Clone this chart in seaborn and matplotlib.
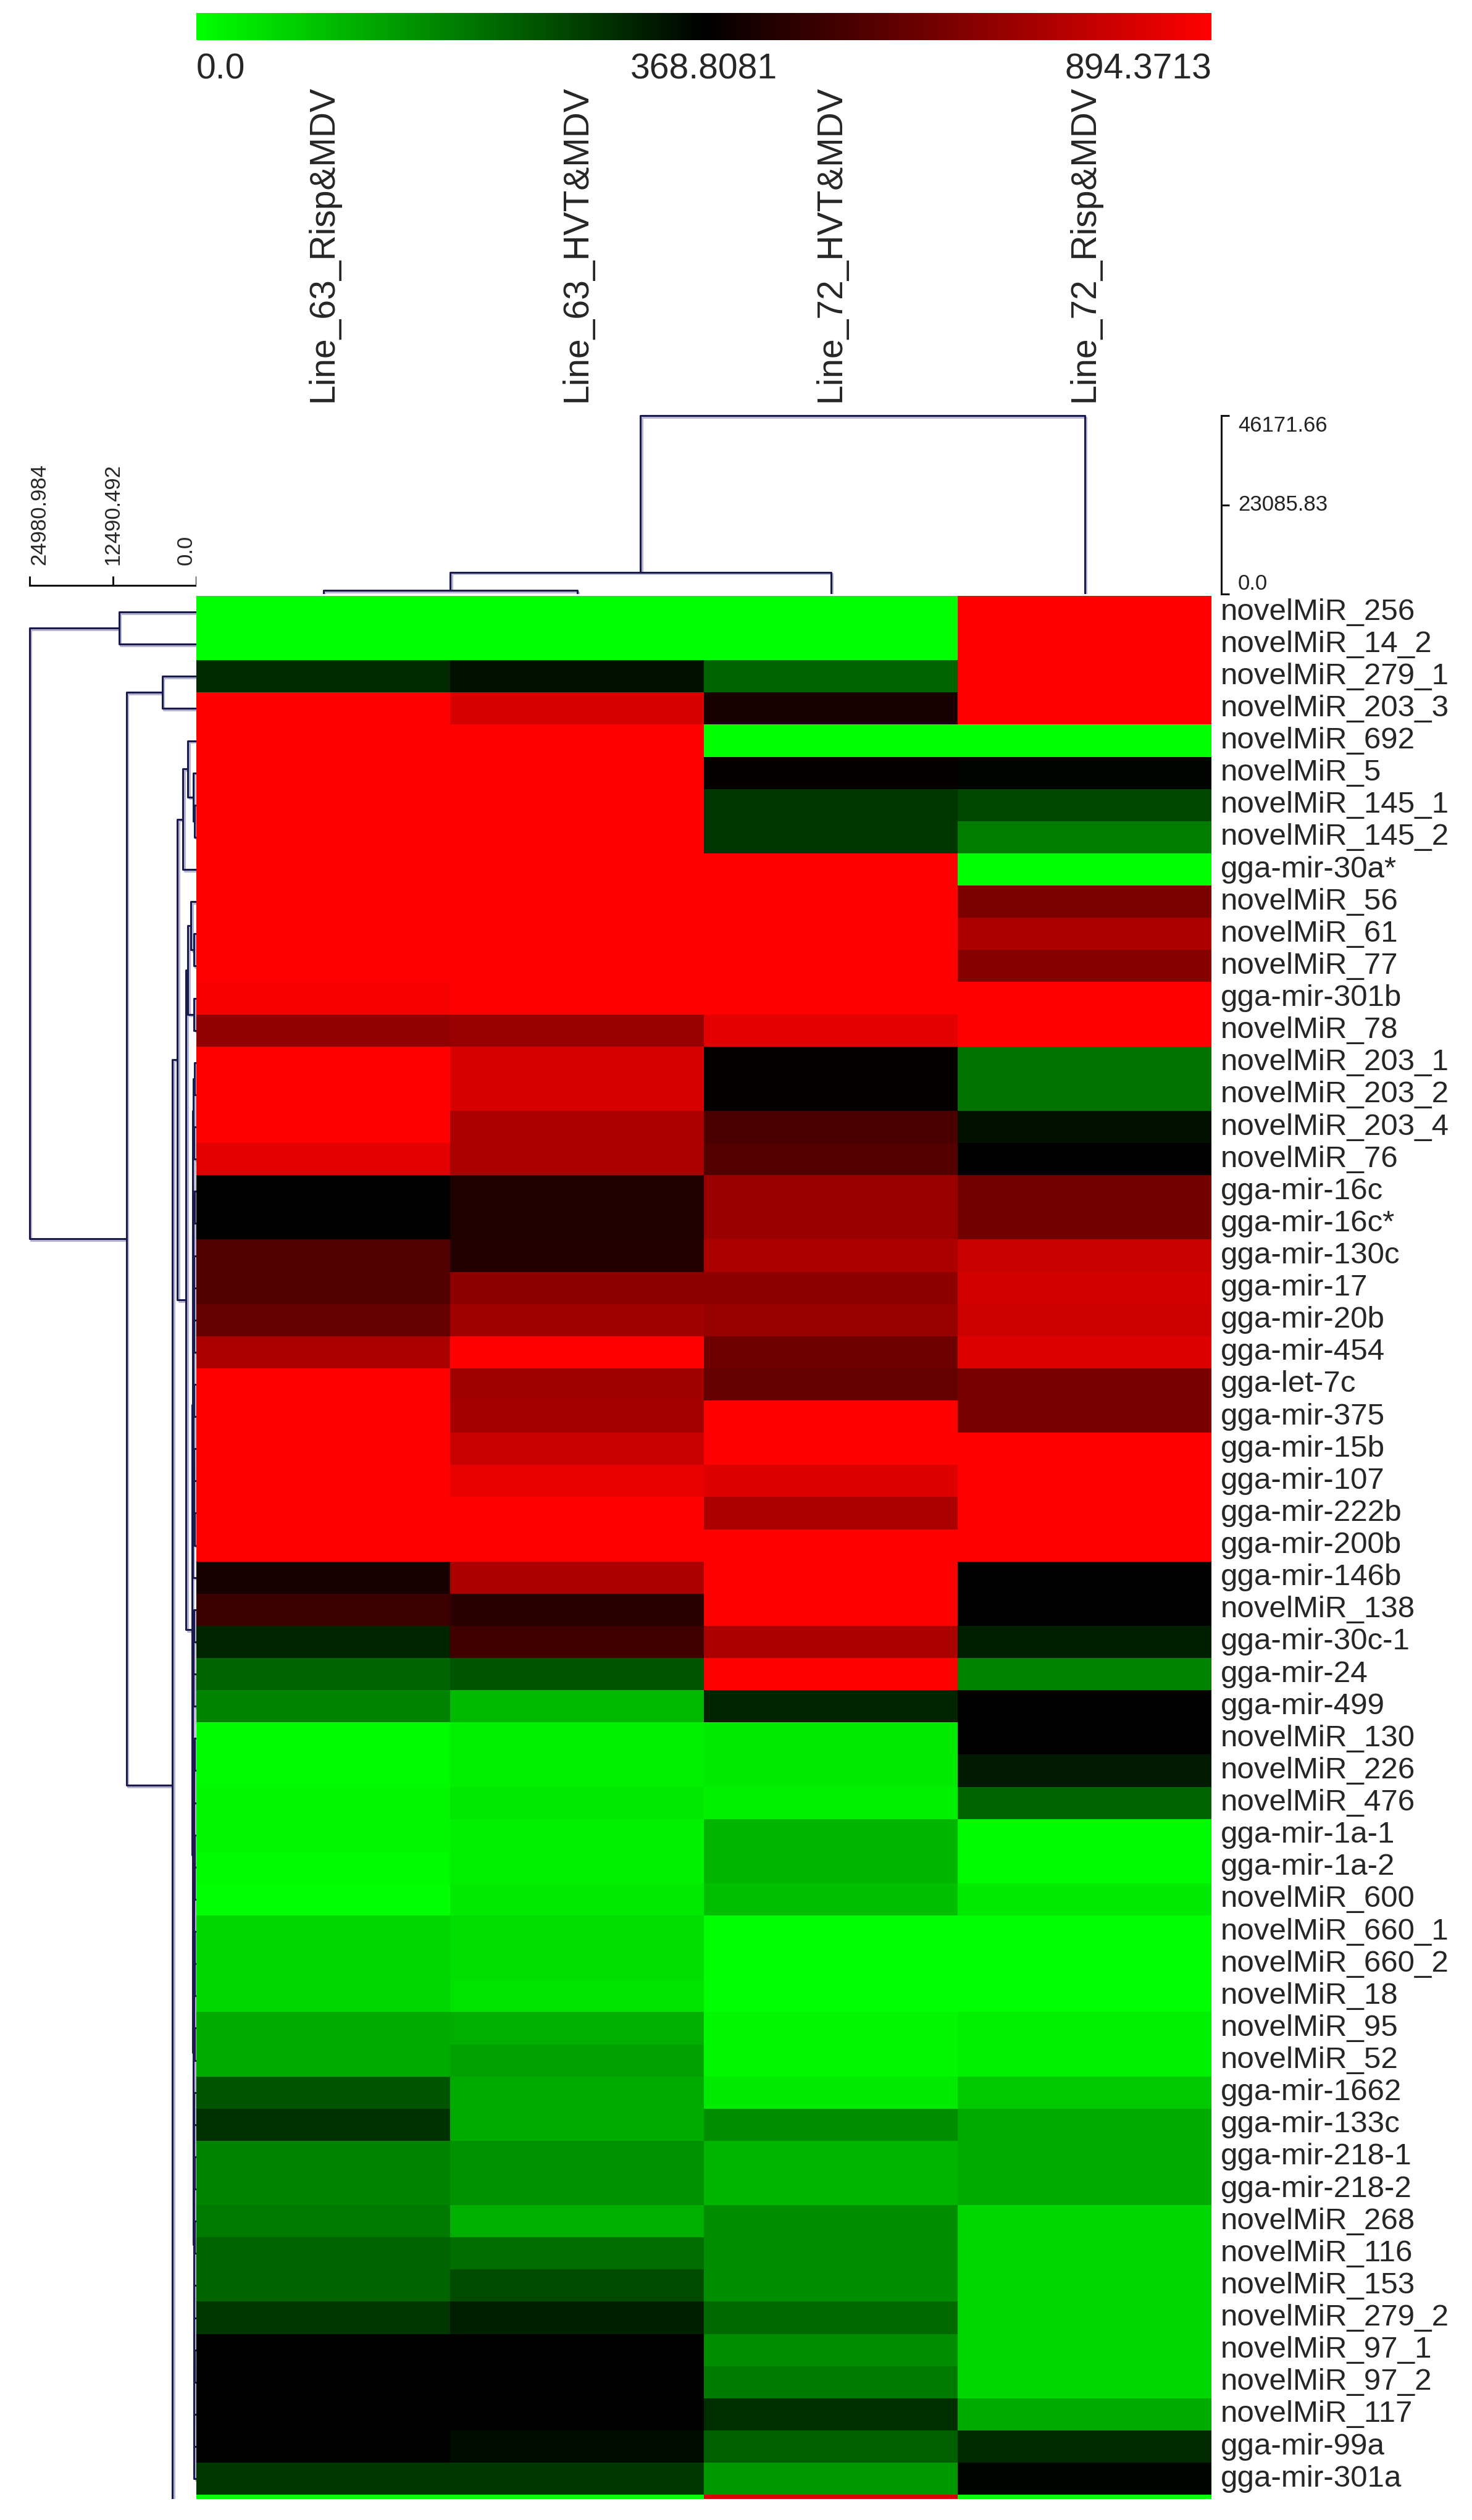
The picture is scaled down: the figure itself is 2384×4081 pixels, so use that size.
import pandas as pd
import matplotlib
matplotlib.use("Agg")
import matplotlib.pyplot as plt
import matplotlib.colors as mcolors
from matplotlib import font_manager
from matplotlib.transforms import offset_copy
import seaborn as sns

# -----------------------
# DATA
# -----------------------
samples = ["Line_63_Risp&MDV", "Line_63_HVT&MDV", "Line_72_HVT&MDV", "Line_72_Risp&MDV"]

# last row is cut off by the bottom edge of the picture (no label shown)
mirnas = ["novelMiR_256", "novelMiR_14_2", "novelMiR_279_1", "novelMiR_203_3", "novelMiR_692",
          "novelMiR_5", "novelMiR_145_1", "novelMiR_145_2", "gga-mir-30a*", "novelMiR_56",
          "novelMiR_61", "novelMiR_77", "gga-mir-301b", "novelMiR_78", "novelMiR_203_1",
          "novelMiR_203_2", "novelMiR_203_4", "novelMiR_76", "gga-mir-16c", "gga-mir-16c*",
          "gga-mir-130c", "gga-mir-17", "gga-mir-20b", "gga-mir-454", "gga-let-7c",
          "gga-mir-375", "gga-mir-15b", "gga-mir-107", "gga-mir-222b", "gga-mir-200b",
          "gga-mir-146b", "novelMiR_138", "gga-mir-30c-1", "gga-mir-24", "gga-mir-499",
          "novelMiR_130", "novelMiR_226", "novelMiR_476", "gga-mir-1a-1", "gga-mir-1a-2",
          "novelMiR_600", "novelMiR_660_1", "novelMiR_660_2", "novelMiR_18", "novelMiR_95",
          "novelMiR_52", "gga-mir-1662", "gga-mir-133c", "gga-mir-218-1", "gga-mir-218-2",
          "novelMiR_268", "novelMiR_116", "novelMiR_153", "novelMiR_279_2", "novelMiR_97_1",
          "novelMiR_97_2", "novelMiR_117", "gga-mir-99a", "gga-mir-301a", ""]

line63_risp = [0, 0, 311, 894, 894, 894, 894, 894, 894, 894,
               894, 894, 874, 668, 894, 894, 894, 833, 369, 369,
               534, 534, 575, 719, 894, 894, 894, 894, 894, 894,
               420, 492, 318, 224, 181, 7, 7, 14, 14, 7,
               0, 58, 58, 58, 123, 123, 246, 297, 181, 181,
               195, 224, 224, 289, 369, 369, 369, 369, 289, 0]
line63_hvt = [0, 0, 347, 812, 894, 894, 894, 894, 894, 894,
              894, 894, 894, 678, 812, 812, 719, 719, 431, 431,
              441, 657, 699, 894, 699, 709, 781, 843, 894, 894,
              719, 451, 503, 246, 101, 22, 22, 36, 22, 22,
              29, 51, 51, 43, 116, 137, 123, 123, 159, 159,
              116, 210, 260, 325, 369, 369, 369, 354, 289, 0]
line72_hvt = [0, 0, 224, 420, 0, 379, 289, 289, 894, 894,
              894, 894, 894, 833, 379, 379, 523, 544, 688, 688,
              719, 657, 678, 596, 575, 894, 894, 822, 719, 894,
              894, 894, 719, 894, 318, 29, 29, 22, 108, 108,
              94, 0, 0, 0, 14, 14, 29, 166, 108, 108,
              166, 166, 166, 217, 166, 195, 304, 231, 152, 822]
line72_risp = [894, 894, 894, 894, 0, 365, 268, 188, 0, 626,
               719, 647, 894, 894, 202, 202, 347, 369, 606, 606,
               781, 802, 791, 822, 616, 616, 894, 894, 894, 894,
               369, 369, 325, 181, 369, 369, 333, 224, 7, 7,
               29, 0, 0, 0, 22, 22, 79, 123, 123, 123,
               58, 58, 58, 58, 58, 58, 123, 311, 362, 0]

cbar_ticks = [0.0, 368.8081, 894.3713]
cbar_labels = ["0.0", "368.8081", "894.3713"]

# column tree: (left, right, height); ids >= 4 are earlier merges
col_merges = [(0, 1, 900), (4, 2, 5600), (5, 3, 46171.66)]
col_scale = [0.0, 23085.83, 46171.66]
col_scale_labels = ["0.0", "23085.83", "46171.66"]

# row tree: (left, right, height); ids >= 60 are earlier merges
row_merges = [
    (0, 1, 11550), (2, 3, 5080),
    (6, 7, 280), (5, 62, 490), (4, 63, 1270), (64, 8, 2030),
    (10, 11, 400), (9, 66, 800), (12, 13, 350), (67, 68, 1270),
    (14, 15, 300), (16, 17, 340), (70, 71, 420), (18, 19, 300),
    (20, 21, 350), (22, 23, 370), (74, 75, 400), (73, 76, 440),
    (24, 25, 350), (26, 27, 330), (28, 29, 320), (79, 80, 380),
    (78, 81, 420), (77, 82, 470), (72, 83, 520), (84, 30, 580),
    (31, 32, 380), (33, 34, 420), (86, 87, 470),
    (35, 36, 320), (89, 37, 340), (38, 39, 300), (91, 40, 320),
    (41, 42, 300), (93, 43, 310), (44, 45, 320), (94, 95, 340),
    (92, 96, 360), (90, 97, 380),
    (48, 49, 300), (46, 47, 330), (100, 99, 350), (50, 51, 320),
    (52, 53, 330), (102, 103, 350), (54, 55, 310), (105, 56, 330),
    (57, 58, 340), (106, 107, 360), (104, 108, 380), (101, 109, 400),
    (98, 110, 430), (88, 111, 520), (85, 112, 650),
    (69, 113, 1570), (65, 114, 2860), (115, 59, 3600),
    (61, 116, 10440), (60, 117, 24980.984),
]
row_scale = [0.0, 12490.492, 24980.984]
row_scale_labels = ["0.0", "12490.492", "24980.984"]

# -----------------------
# STYLE / LAYOUT
# -----------------------
sns.set_style("white")
plt.rcParams["font.family"] = ["Liberation Sans", "DejaVu Sans"]

# condensed face for the colour-key numbers if it exists
installed = {f.name for f in font_manager.fontManager.ttflist}
if "Liberation Sans Narrow" in installed:
    key_font, key_size = "Liberation Sans Narrow", 47
else:
    key_font, key_size = "Liberation Sans", 41

W, H = 2384, 4081
PT = 0.72  # points per pixel at dpi 100
rows_shown = 59.13
line_color = "#1b1b4b"
shadow_color = "#b6b6d4"


def box(x0, y0, x1, y1):
    return [x0 / W, 1 - y1 / H, (x1 - x0) / W, (y1 - y0) / H]


fig = plt.figure(figsize=(W / 100, H / 100), dpi=100)
ax_hm = fig.add_axes(box(318, 965, 1962, 4047))
ax_rd = fig.add_axes(box(43, 965, 318, 4047))
ax_cd = fig.add_axes(box(318, 665, 1962, 962))
ax_cb = fig.add_axes(box(318, 21, 1962, 65))


def draw_tree(ax, merges, n, side):
    pos = {i: i + 0.5 for i in range(n)}
    hgt = {i: 0.0 for i in range(n)}
    segs = []
    for k, (a, b, h) in enumerate(merges):
        xs = [pos[a], pos[a], pos[b], pos[b]]
        ys = [hgt[a], h, h, hgt[b]]
        segs.append((ys, xs) if side == "left" else (xs, ys))
        pos[n + k] = (pos[a] + pos[b]) / 2
        hgt[n + k] = h
    shadow = offset_copy(ax.transData, fig=ax.figure, x=2.5, y=-2.5, units="dots")
    for xs, ys in segs:
        ax.plot(xs, ys, color=shadow_color, lw=2.2, transform=shadow)
    for xs, ys in segs:
        ax.plot(xs, ys, color=line_color, lw=2.2)


# -----------------------
# HEATMAP + COLORBAR
# -----------------------
df = pd.DataFrame({samples[0]: line63_risp, samples[1]: line63_hvt,
                   samples[2]: line72_hvt, samples[3]: line72_risp}, index=mirnas)

cmap = mcolors.LinearSegmentedColormap.from_list("green_black_red", ["#00ff00", "#000000", "#ff0000"])
norm = mcolors.TwoSlopeNorm(vmin=cbar_ticks[0], vcenter=cbar_ticks[1], vmax=cbar_ticks[2])

sns.heatmap(df, ax=ax_hm, cmap=cmap, norm=norm, cbar_ax=ax_cb,
            cbar_kws={"orientation": "horizontal", "ticks": cbar_ticks},
            xticklabels=False, yticklabels=list(df.index))
ax_hm.set_ylim(rows_shown, 0)
ax_hm.set_ylabel("")
ax_hm.yaxis.tick_right()
ax_hm.tick_params(axis="y", length=0, pad=15 * PT, labelsize=35.5, labelrotation=0)
for t in ax_hm.get_yticklabels():
    t.set_verticalalignment("center")

ax_cb.set_xticks(cbar_ticks, labels=cbar_labels)
ax_cb.tick_params(axis="x", length=0, pad=20 * PT, labelsize=key_size)
for t, ha in zip(ax_cb.get_xticklabels(), ["left", "center", "right"]):
    t.set_horizontalalignment(ha)
    t.set_family([key_font, "DejaVu Sans"])

# -----------------------
# ROW DENDROGRAM (left)
# -----------------------
draw_tree(ax_rd, row_merges, len(mirnas), "left")
ax_rd.set_xlim(25400, 0)
ax_rd.set_ylim(rows_shown, 0)
for s in ["left", "right", "bottom"]:
    ax_rd.spines[s].set_visible(False)
ax_rd.spines["top"].set_position(("outward", 17 * PT))
ax_rd.spines["top"].set_bounds(row_scale[0], row_scale[-1])
ax_rd.spines["top"].set_linewidth(2.2)
ax_rd.spines["top"].set_color("#111111")
ax_rd.set_yticks([])
ax_rd.xaxis.tick_top()
ax_rd.set_xticks(row_scale, labels=row_scale_labels)
ax_rd.tick_params(axis="x", direction="out", length=15 * PT, width=2.2, color="#111111",
                  pad=13, labelsize=25, labelrotation=90)
for t, ha in zip(ax_rd.get_xticklabels(), ["right", "center", "left"]):
    t.set_horizontalalignment(ha)

# -----------------------
# COLUMN DENDROGRAM (top)
# -----------------------
draw_tree(ax_cd, col_merges, len(samples), "top")
ax_cd.set_xlim(0, len(samples))
ax_cd.set_ylim(0, 47500)
for s in ["left", "top", "bottom"]:
    ax_cd.spines[s].set_visible(False)
ax_cd.spines["right"].set_position(("outward", 16 * PT))
ax_cd.spines["right"].set_bounds(col_scale[0], col_scale[-1])
ax_cd.spines["right"].set_linewidth(2.2)
ax_cd.spines["right"].set_color("#111111")
ax_cd.yaxis.tick_right()
ax_cd.set_yticks(col_scale, labels=col_scale_labels)
ax_cd.tick_params(axis="y", direction="out", length=13 * PT, width=2.2, color="#111111",
                  pad=14 * PT, labelsize=25, labelcolor="#222222")
for t, va in zip(ax_cd.get_yticklabels(), ["bottom", "center", "top"]):
    t.set_verticalalignment(va)
ax_cd.xaxis.tick_top()
ax_cd.set_xticks([i + 0.5 for i in range(len(samples))], labels=samples)
ax_cd.tick_params(axis="x", length=0, pad=14 * PT, labelsize=41, labelrotation=90)

fig.savefig("out.png", dpi=100, facecolor="white")
